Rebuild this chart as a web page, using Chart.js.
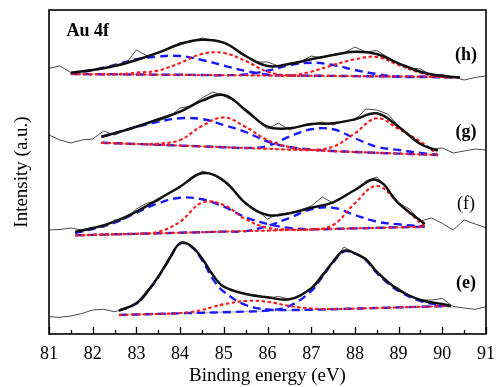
<!DOCTYPE html>
<html lang="en">
<head>
<meta charset="UTF-8">
<title>Au 4f XPS</title>
<script src="https://cdn.jsdelivr.net/npm/chart.js"></script>
<style>
  html, body { margin: 0; padding: 0; background: #fff; }
  #wrap { width: 504px; height: 387px; }
</style>
</head>
<body>
<div id="wrap"><canvas id="xpsChart"></canvas></div>
<script>
// raw spectra, same energy grid for all four samples
const rawEnergy = [];
for (let i = 0; i <= 40; i++) rawEnergy.push(81 + i * 0.25);

const hRaw = [265.7, 268, 261.5, 262.5, 264.5, 265.5, 269.5, 270, 284, 278, 281, 285, 291.5, 292, 296, 293.5, 291, 286, 278.5, 272,
  272, 268, 271, 272, 278, 276, 279.5, 281, 287, 282, 283.5, 277, 270, 266, 265, 258.5, 259.5, 257, 254, 256.5, 258];
const gRaw = [199, 194, 191, 194, 195, 203, 199, 204, 208, 211, 213, 217, 226, 228, 236, 242, 238, 233, 222, 214,
  205, 211, 204, 208, 209, 212, 209, 213, 214, 225, 224, 220, 208, 198, 190, 185, 186, 181, 183, 185, 184];
const fRaw = [104, 104.5, 106, 104, 107, 106.5, 114, 115, 125, 131, 133, 141, 148, 154, 163, 160, 152, 143, 131, 124,
  115, 120, 121, 124, 128, 137, 131, 137, 144, 153, 157, 145, 131, 125, 113, 116, 110.7, 104, 114, 110, 106.3];
const eRaw = [17.3, 16.7, 18, 20.5, 24, 24.7, 22.3, 25, 31, 44, 57, 77, 92, 89, 77, 58, 47, 43, 40, 39,
  36, 37.5, 35, 38, 46, 60, 72, 87, 81, 76, 62, 51, 46, 38, 34, 34, 35.5, 27.5, 26, 24.7, 27.3];

// (h) fitted curves
const hEnergy = [81.5, 82, 82.5, 83, 83.5, 84, 84.5, 85, 85.5, 86, 86.5, 87, 87.5, 88, 88.5, 89, 89.5, 90, 90.4];
const hFit   = [261.3, 264, 268, 274, 281.3, 290, 294.3, 291.3, 278, 268, 270, 274.7, 279, 282.3, 280, 270.7, 262.3, 258, 256.7];
const hRed1  = [260, 259.8, 259.7, 261.3, 263.5, 271, 280, 281, 273, 262.3, 258.5, 258.3, 258.1, 257.9, 257.7, 257.5, 257.3, 257, 256.7];
const hRed2  = [260, 259.8, 259.7, 259.5, 259.3, 259.2, 259, 258.8, 258.7, 258.5, 258.5, 262.3, 269, 274.7, 277, 269, 261.3, 257, 256.7];
const hBlue1 = [260.5, 264, 269, 274.7, 277.5, 278, 274, 268.5, 263, 259.3, 258.5, 258.3, 258.1, 257.9, 257.7, 257.5, 257.3, 257, 256.7];
const hBlue2 = [260, 259.8, 259.7, 259.5, 259.3, 259.2, 259, 258.8, 259.5, 263.3, 268.7, 271.3, 269, 264, 260, 257.3, 257, 256.8, 256.7];
const hBackground = [260, 256.7];

// (g) fitted curves
const gEnergy = [82.2, 82.5, 83, 83.5, 84, 84.5, 85, 85.5, 86, 86.5, 87, 87.5, 88, 88.5, 89, 89.5, 89.9];
const gFit   = [197.3, 200.7, 207.3, 214.7, 222.3, 233.3, 239, 224, 207.3, 205.7, 210, 210.7, 214.7, 220.7, 207.3, 190, 183.3];
const gRed1  = [191.3, 190.8, 190, 190.5, 194, 208, 216.5, 207, 194, 187, 184, 182.8, 182, 181.2, 180.4, 179.6, 179];
const gRed2  = [191.3, 190.8, 190, 189.2, 188.4, 187.6, 186.8, 186, 185.2, 184.4, 184, 187.3, 200.7, 215.7, 205, 192.3, 179];
const gBlue1 = [197.3, 200.7, 207, 212.3, 215.7, 215, 209, 202, 192.5, 187, 184.5, 183, 182, 181.2, 180.4, 179.6, 179];
const gBlue2 = [191.3, 190.8, 190, 189.2, 188.4, 187.6, 186.8, 186, 188, 197.3, 204.7, 204.7, 195.7, 187.3, 184, 181, 179];
const gBackground = [191.3, 179];

// (f) fitted curves
const fEnergy = [81.6, 82, 82.5, 83, 83.5, 84, 84.5, 85, 85.5, 86, 86.5, 87, 87.5, 88, 88.5, 89, 89.6];
const fFit   = [102.3, 105.7, 112.3, 122.3, 134.7, 147.3, 160.7, 153.3, 130.7, 119, 120.7, 126.3, 131.7, 144, 154, 130.7, 110];
const fRed1  = [98.7, 99.1, 99.7, 100.2, 102.3, 112.3, 131.3, 129, 114.7, 106.3, 104.5, 104.5, 105.1, 105.6, 106.1, 106.7, 107.3];
const fRed2  = [98.7, 99.1, 99.7, 100.2, 100.7, 101.3, 101.8, 102.4, 102.9, 103.4, 104, 104.5, 109, 130.7, 148, 130.7, 107.3];
const fBlue1 = [101, 105, 111.3, 121.3, 130.7, 136.3, 134.7, 127.3, 116.7, 110, 106, 104.7, 105.1, 105.6, 106.1, 106.7, 107.3];
const fBlue2 = [98.7, 99.1, 99.7, 100.2, 100.7, 101.3, 101.8, 102.4, 102.9, 108, 116, 124.7, 126.3, 119, 112.3, 109.7, 107.3];
const fBackground = [98.7, 107.3];

// (e) fitted curves
const eEnergy = [82.6, 83, 83.25, 83.5, 83.75, 84, 84.25, 84.5, 84.75, 85, 85.5, 86, 86.5, 87, 87.25, 87.5, 87.75, 88, 88.25, 88.5, 88.75, 89, 89.5, 90, 90.2];
const eFit   = [23.3, 30.7, 42.3, 57.3, 74.7, 90.7, 88, 75.7, 59, 47.3, 40, 36.7, 34.7, 45.7, 58, 72.3, 83.3, 80.7, 74.7, 62.3, 52.3, 44, 34, 30, 28];
const eRed   = [19, 19.5, 19.8, 20.1, 20.4, 21, 22, 24, 27, 29.7, 33, 32.3, 28, 25.5, 25, 25, 25.1, 25.4, 25.7, 26, 26.3, 26.6, 27.2, 27.8, 28];
const eBlue1 = [23.3, 30.5, 42, 57, 74.5, 90.5, 87.5, 74, 55, 42.3, 29, 24.5, 24, 24.3, 24.5, 24.8, 25.1, 25.4, 25.7, 26, 26.3, 26.6, 27.2, 27.8, 28];
const eBlue2 = [19, 19.5, 19.8, 20.1, 20.4, 20.7, 21, 21.2, 21.5, 21.8, 22.4, 23.5, 28, 43, 57, 71.5, 82.5, 80.5, 74, 61, 51, 43, 33, 29, 28];
const eBackground = [19, 28];

const sampleLabels = ['(h)', '(g)', '(f)', '(e)'];
const xTicks = [81, 82, 83, 84, 85, 86, 87, 88, 89, 90, 91];

const serif = "'Liberation Serif', 'Times New Roman', serif";

function pts(xs, ys) {
  return xs.map((x, i) => ({ x: x, y: ys[i] }));
}

const spectra = [
  { energy: hEnergy, raw: hRaw, fit: hFit, reds: [hRed1, hRed2], blues: [hBlue1, hBlue2], bg: hBackground },
  { energy: gEnergy, raw: gRaw, fit: gFit, reds: [gRed1, gRed2], blues: [gBlue1, gBlue2], bg: gBackground },
  { energy: fEnergy, raw: fRaw, fit: fFit, reds: [fRed1, fRed2], blues: [fBlue1, fBlue2], bg: fBackground },
  { energy: eEnergy, raw: eRaw, fit: eFit, reds: [eRed], blues: [eBlue1, eBlue2], bg: eBackground }
];

const datasets = [];
spectra.forEach(s => {
  const ends = [s.energy[0], s.energy[s.energy.length - 1]];
  datasets.push({ data: pts(ends, s.bg), borderColor: '#b0b0b0', borderWidth: 1.2, tension: 0, order: 4 });
  s.blues.forEach(b => datasets.push({
    data: pts(s.energy, b), borderColor: '#1a1aff', borderWidth: 2.4, borderDash: [8, 5], tension: 0.4, order: 3
  }));
  s.reds.forEach(r => datasets.push({
    data: pts(s.energy, r), borderColor: '#ff1a1a', borderWidth: 2.1, borderDash: [3.5, 2.5], tension: 0.4, order: 2
  }));
  datasets.push({ data: pts(rawEnergy, s.raw), borderColor: '#4a4a4a', borderWidth: 1, tension: 0, order: 1 });
  datasets.push({ data: pts(s.energy, s.fit), borderColor: '#111', borderWidth: 2.5, tension: 0.4, order: 0 });
});

// frame, inward ticks and the panel labels
const decor = {
  id: 'decor',
  afterDraw(chart) {
    const { ctx, chartArea: a, scales: { x, y } } = chart;
    ctx.save();
    ctx.strokeStyle = '#000';
    ctx.lineWidth = 1.3;
    for (let e = 81; e <= 91; e += 0.5) {
      const px = Math.round(x.getPixelForValue(e)) + 0.5;
      const len = Number.isInteger(e) ? 7 : 4;
      ctx.beginPath();
      ctx.moveTo(px, a.bottom);
      ctx.lineTo(px, a.bottom - len);
      ctx.stroke();
    }
    ctx.lineWidth = 1.6;
    ctx.strokeRect(a.left, a.top, a.right - a.left, a.bottom - a.top);

    ctx.fillStyle = '#000';
    ctx.textBaseline = 'middle';
    ctx.textAlign = 'left';
    ctx.font = 'bold 18px ' + serif;
    ctx.fillText('Au 4f', x.getPixelForValue(81.4), y.getPixelForValue(302.5));

    const place = [279, 202, 130, 51];
    ctx.textAlign = 'center';
    sampleLabels.forEach((t, i) => {
      ctx.font = (t === '(f)' ? '' : 'bold ') + '18px ' + serif;
      ctx.fillText(t, x.getPixelForValue(90.54), y.getPixelForValue(place[i]));
    });
    ctx.restore();
  }
};

new Chart(document.getElementById('xpsChart'), {
  type: 'line',
  data: { datasets: datasets },
  options: {
    responsive: true,
    maintainAspectRatio: false,
    animation: false,
    layout: { padding: { top: 10, right: 17, left: 0, bottom: 0 } },
    elements: { point: { radius: 0 } },
    plugins: { legend: { display: false }, tooltip: { enabled: false } },
    scales: {
      x: {
        type: 'linear',
        min: 81,
        max: 91,
        afterBuildTicks: scale => { scale.ticks = xTicks.map(v => ({ value: v })); },
        afterFit: scale => { scale.height = 53; },
        grid: { display: false, drawTicks: false },
        border: { display: false },
        ticks: { color: '#000', padding: 9, font: { family: serif, size: 18 } },
        title: {
          display: true,
          text: 'Binding energy (eV)',
          color: '#000',
          padding: { top: 0, bottom: 0 },
          font: { family: serif, size: 19 }
        }
      },
      y: {
        min: 0,
        max: 324,
        afterFit: scale => { scale.width = 49; },
        grid: { display: false, drawTicks: false },
        border: { display: false },
        ticks: { display: false },
        title: {
          display: true,
          text: 'Intensity (a.u.)',
          color: '#000',
          padding: { top: 11, bottom: 0 },
          font: { family: serif, size: 19 }
        }
      }
    }
  },
  plugins: [decor]
});
</script>
</body>
</html>
